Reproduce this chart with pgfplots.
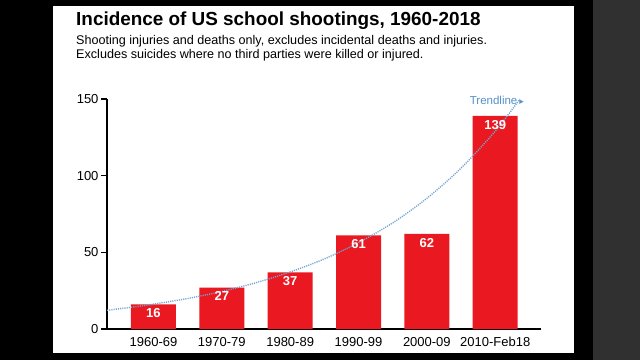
\documentclass[border=0pt]{standalone}
\usepackage{pgfplots}
\pgfplotsset{compat=1.18}
\usepackage{fontspec}
\setmainfont{Liberation Sans}
\newfontfamily\djv{DejaVu Sans}
\definecolor{barred}{RGB}{234,24,32}
\definecolor{trend}{RGB}{115,165,210}
\definecolor{trendtxt}{RGB}{85,145,200}
\definecolor{sidegray}{RGB}{48,48,48}
\begin{document}
\begin{tikzpicture}[x=1pt,y=1pt]
\fill[black] (0,0) rectangle (640,360);
\fill[white] (53,7) rectangle (574,354);
\fill[sidegray] (593,0) rectangle (640,360);
\node[anchor=base west, inner sep=0, font=\fontsize{18.9}{22}\selectfont\bfseries] at (76,335) {Incidence of US school shootings, 1960-2018};
\node[anchor=base west, inner sep=0, font=\fontsize{12.6}{13.5}\selectfont] at (76,316) {Shooting injuries and deaths only, excludes incidental deaths and injuries.};
\node[anchor=base west, inner sep=0, font=\fontsize{12.6}{13.5}\selectfont] at (76,302) {Excludes suicides where no third parties were killed or injured.};
\begin{axis}[
  at={(107pt,31pt)}, anchor=south west,
  width=434pt, height=230pt, scale only axis,
  xmin=-0.68, xmax=5.67, ymin=0, ymax=150,
  axis x line=bottom, axis y line=left,
  axis line style={-, line width=1.1pt, black},
  ytick={0,50,100,150},
  xtick={0,1,2,3,4,5},
  xticklabels={1960-69,1970-79,1980-89,1990-99,2000-09,2010-Feb18},
  x tick style={draw=none},
  y tick style={line width=1.1pt, black},
  tick align=outside, major tick length=6pt,
  tick label style={font=\fontsize{13}{14}\selectfont},
  yticklabel style={xshift=1pt},
  xticklabel style={yshift=1pt},
  /pgf/number format/assume math mode=true,
  clip=false,
]
\addplot[ybar, bar width=45pt, fill=barred, draw=none,
  nodes near coords, nodes near coords align={below},
  every node near coord/.append style={text=white, font=\fontsize{13}{13}\selectfont\bfseries, inner sep=2pt, yshift=-2pt}]
  coordinates {(0,16) (1,27) (2,37) (3,61) (4,62) (5,139)};
\addplot[trend, line width=1.4pt, dash pattern=on 1.1pt off 1.1pt, smooth, no marks]
  coordinates {(-0.68,12.2) (-0.3,14.3) (0,16.2) (0.5,19.9) (1,24.5) (1.5,30.2) (2,37.2) (2.5,45.7) (3,56.3) (3.5,69.2) (4,85.2) (4.5,104.9) (5,129.0) (5.36,149.9)};
\end{axis}
\node[anchor=base east, inner sep=0, text=trendtxt, font=\fontsize{11.5}{12}\selectfont] at (524,256) {Trendline\,{\djv\fontsize{9}{9}\selectfont ▸}};
\end{tikzpicture}
\end{document}
